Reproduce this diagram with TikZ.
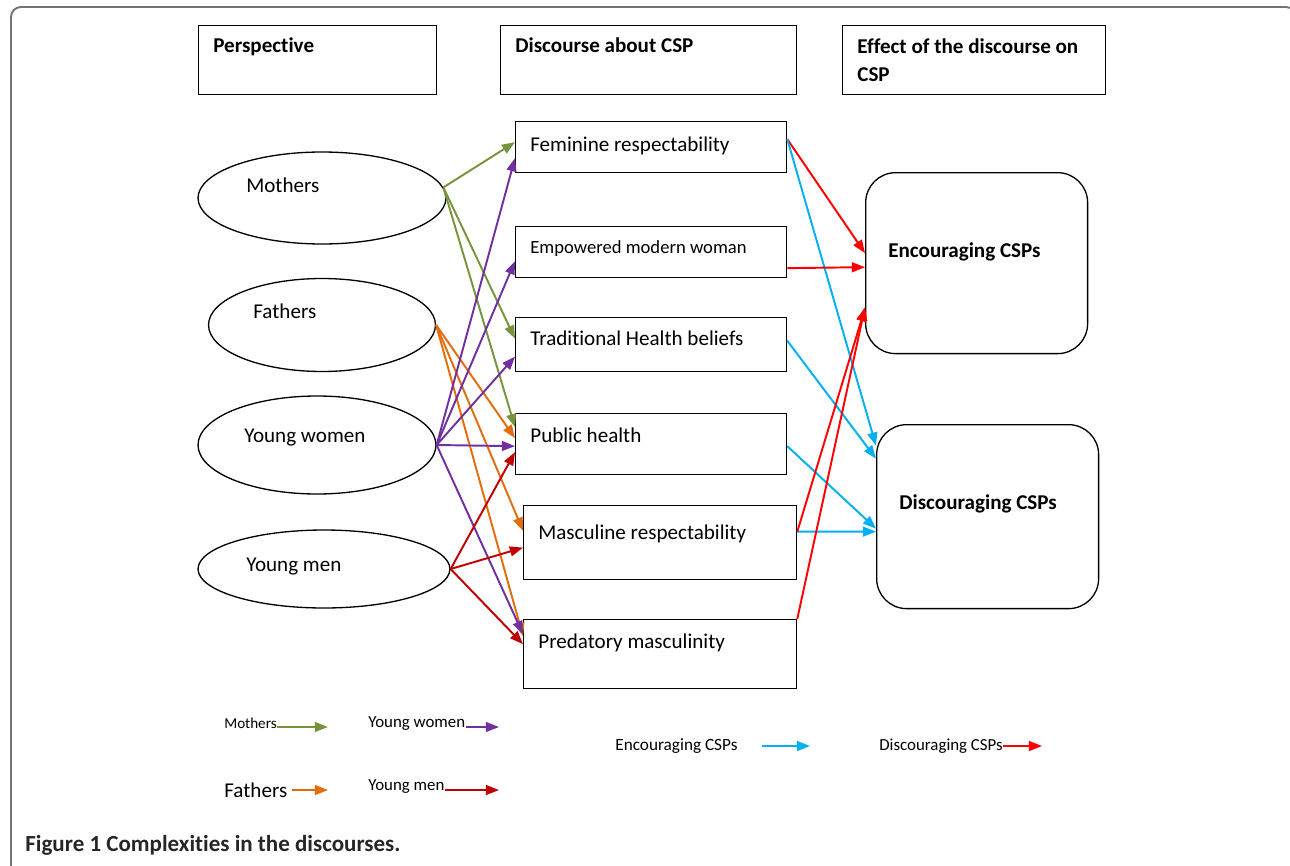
\documentclass[tikz,border=0pt]{standalone}
\usepackage{fontspec}
\setmainfont{Carlito}[RawFeature={-liga;-clig;-calt;-dlig}]
\usepackage{tikz}
\usetikzlibrary{shapes, arrows.meta, positioning, shapes.geometric}
\usepackage{xcolor}
\definecolor{mgreen}{HTML}{77933C}
\definecolor{forange}{HTML}{E46C0A}
\definecolor{wpurple}{HTML}{7030A0}
\definecolor{mdarkred}{HTML}{C00000}
\definecolor{effred}{HTML}{FF0000}
\definecolor{effcyan}{HTML}{00B0F0}

\begin{document}
\begin{tikzpicture}[
        x=0.02cm, y=-0.02cm,
        font=\fontsize{12}{16.4}\selectfont,
        % Styles
        headbox/.style={
            rectangle,
            draw=black,
            line width=0.75pt,
            anchor=north west,
            inner sep=0pt,
            minimum height=1.38cm
          },
        discbox/.style={
            rectangle,
            draw=black,
            line width=0.75pt,
            anchor=north west,
            inner sep=0pt,
            minimum width=5.42cm
          },
        effectbox/.style={
            rectangle,
            rounded corners=0.6cm,
            draw=black,
            line width=0.75pt,
            anchor=north west,
            inner sep=0pt,
            minimum width=4.44cm
          },
        person/.style={
            ellipse,
            draw=black,
            line width=0.75pt,
            inner sep=0pt
          },
        txt/.style={
            anchor=base west,
            inner sep=0pt,
            align=left
          },
        headtxt/.style={
            txt,
            font=\fontsize{12}{16.4}\selectfont\bfseries
          },
        legtxt/.style={
            anchor=west,
            inner sep=0pt
          },
        arrow/.style={
            -{Triangle[length=7.5pt, width=5.6pt]},
            line width=1.1pt
          },
        mother/.style={arrow, draw=mgreen, fill=mgreen},
        father/.style={arrow, draw=forange, fill=forange},
        ywoman/.style={arrow, draw=wpurple, fill=wpurple},
        yman/.style={arrow, draw=mdarkred, fill=mdarkred},
        encour/.style={arrow, draw=effred, fill=effred},
        discour/.style={arrow, draw=effcyan, fill=effcyan}
      ]
      \useasboundingbox (0,0) rectangle (1290,865);

      % Frame
      \draw[black!55, line width=1.1pt, rounded corners=0.2cm]
        (11,870) -- (11,7) -- (1296,7) -- (1296,870);

      % Header boxes
      \node[headbox, minimum width=4.76cm] (hpersp) at (198,25) {};
      \node[headtxt] (hpersp-t) at (213,53) {Perspective};
      \node[headbox, minimum width=5.92cm] (hdisc) at (500,25) {};
      \node[headtxt] (hdisc-t) at (515,53) {Discourse about CSP};
      \node[headbox, minimum width=5.26cm] (heffect) at (842,25) {};
      \node[headtxt] (heffect-t) at (857,82) {Effect of the discourse on\\CSP};

      % Perspectives (left)
      \node[person, minimum width=4.96cm, minimum height=1.84cm] (mothers) at (322,198) {};
      \node[txt] (mothers-t) at (246,192) {Mothers};
      \node[person, minimum width=4.54cm, minimum height=1.86cm] (fathers) at (322,325) {};
      \node[txt] (fathers-t) at (253,318) {Fathers};
      \node[person, minimum width=4.76cm, minimum height=1.96cm] (ywomen) at (317,445) {};
      \node[txt] (ywomen-t) at (244,442) {Young women};
      \node[person, minimum width=5.04cm, minimum height=1.56cm] (ymen) at (324,569) {};
      \node[txt] (ymen-t) at (246,571) {Young men};

      % Discourses (middle)
      \node[discbox, minimum height=1.02cm] (fem) at (515,121) {};
      \node[txt] (fem-t) at (530,151) {Feminine respectability};
      \node[discbox, minimum height=1.02cm] (emp) at (515,226) {};
      \node[txt, font=\fontsize{10.6}{12}\selectfont] (emp-t) at (530,253) {Empowered modern woman};
      \node[discbox, minimum height=1.08cm] (trad) at (515,317) {};
      \node[txt] (trad-t) at (530,345) {Traditional Health beliefs};
      \node[discbox, minimum height=1.22cm] (pub) at (515,413) {};
      \node[txt] (pub-t) at (530,442) {Public health};
      \node[discbox, minimum width=5.46cm, minimum height=1.48cm] (masc) at (523,505) {};
      \node[txt] (masc-t) at (538,539) {Masculine respectability};
      \node[discbox, minimum width=5.46cm, minimum height=1.38cm] (pred) at (523,619) {};
      \node[txt] (pred-t) at (538,648) {Predatory masculinity};

      % Effects (right)
      \node[effectbox, minimum height=3.62cm] (enc) at (865,172) {};
      \node[headtxt] (enc-t) at (888,257) {Encouraging CSPs};
      \node[effectbox, minimum height=3.68cm] (dis) at (876,424) {};
      \node[headtxt] (dis-t) at (899,509) {Discouraging CSPs};

      % Arrows from the perspectives
      \draw[mother] (mothers.5) -- ([shift={(0,-5)}]fem.west);
      \draw[mother] (mothers.5) -- ([shift={(0,-6)}]trad.west);
      \draw[mother] (mothers.5) -- ([shift={(0,-17)}]pub.west);

      \draw[father] (fathers.east) -- ([shift={(0,-6)}]pub.west);
      \draw[father] (fathers.east) -- ([shift={(0,-12)}]masc.west);
      \draw[father] (fathers.east) -- ([shift={(0,-18)}]pred.west);

      \draw[ywoman] (ywomen.east) -- ([shift={(0,11)}]fem.west);
      \draw[ywoman] (ywomen.east) -- ([shift={(0,9)}]emp.west);
      \draw[ywoman] (ywomen.east) -- ([shift={(0,12)}]trad.west);
      \draw[ywoman] (ywomen.east) -- ([shift={(0,2)}]pub.west);
      \draw[ywoman] (ywomen.east) -- ([shift={(0,-20)}]pred.west);

      \draw[yman] (ymen.east) -- ([shift={(0,8)}]pub.west);
      \draw[yman] (ymen.east) -- ([shift={(0,5)}]masc.west);
      \draw[yman] (ymen.east) -- ([shift={(0,-10)}]pred.west);

      % Arrows to the effects
      \draw[encour] ([shift={(0,-8)}]fem.east) -- ([shift={(0,-10)}]enc.west);
      \draw[discour] ([shift={(0,-8)}]fem.east) -- ([shift={(0,-71)}]dis.west);
      \draw[encour] ([shift={(0,16)}]emp.east) -- ([shift={(0,4)}]enc.west);
      \draw[discour] ([shift={(0,-4)}]trad.east) -- ([shift={(0,-58)}]dis.west);
      \draw[discour] ([shift={(0,2)}]pub.east) -- ([shift={(0,12)}]dis.west);
      \draw[discour] ([shift={(0,-11)}]masc.east) -- ([shift={(0,15)}]dis.west);
      \draw[encour] ([shift={(0,-11)}]masc.east) -- ([shift={(0,45)}]enc.west);
      \draw[encour] (pred.north east) -- ([shift={(0,44)}]enc.west);

      % Legend
      \node[legtxt, font=\fontsize{8.6}{10}\selectfont] (lg-mothers) at (224,723) {Mothers};
      \coordinate (lg-mothers-end) at (328,727);
      \draw[mother] (lg-mothers.east |- lg-mothers-end) -- (lg-mothers-end);

      \node[legtxt, font=\fontsize{9.6}{11}\selectfont] (lg-ywomen) at (368,724) {Young women};
      \coordinate (lg-ywomen-end) at (499,727);
      \draw[ywoman] (lg-ywomen.east |- lg-ywomen-end) -- (lg-ywomen-end);

      \node[legtxt, font=\fontsize{12}{14}\selectfont] (lg-fathers) at (224,790) {Fathers};
      \coordinate (lg-fathers-a) at (292,790);
      \coordinate (lg-fathers-end) at (328,790);
      \draw[father] (lg-fathers-a) -- (lg-fathers-end);

      \node[legtxt, font=\fontsize{9.6}{11}\selectfont] (lg-ymen) at (368,787) {Young men};
      \coordinate (lg-ymen-end) at (499,790);
      \draw[yman] (lg-ymen.east |- lg-ymen-end) -- (lg-ymen-end);

      \node[legtxt, font=\fontsize{9.8}{11}\selectfont] (lg-enc) at (615,746) {Encouraging CSPs};
      \coordinate (lg-enc-a) at (762,746);
      \coordinate (lg-enc-end) at (810,746);
      \draw[discour] (lg-enc-a) -- (lg-enc-end);

      \node[legtxt, font=\fontsize{9.6}{11}\selectfont] (lg-dis) at (879,746) {Discouraging CSPs};
      \coordinate (lg-dis-end) at (1042,746);
      \draw[encour] (lg-dis.east |- lg-dis-end) -- (lg-dis-end);

      % Caption
      \node[txt, font=\fontsize{13.1}{15}\selectfont\bfseries, text=black!85] (caption) at (25,851)
        {Figure 1 Complexities in the discourses.};

    \end{tikzpicture}
\end{document}
